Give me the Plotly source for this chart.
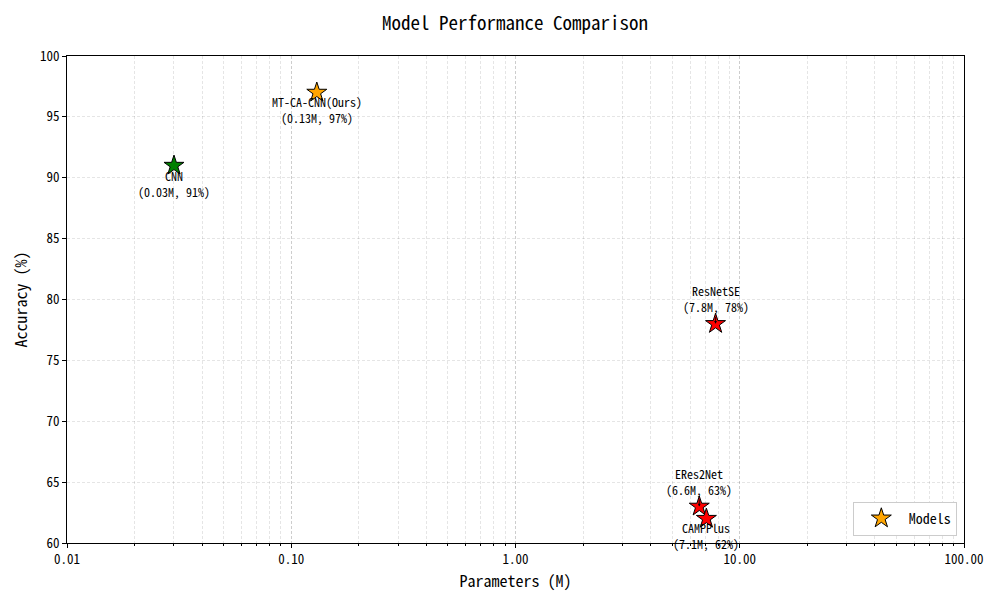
import math
import plotly.graph_objects as go

# model data
models = ["MT-CA-CNN(Ours)", "CNN", "ResNetSE", "ERes2Net", "CAMPPlus"]
params_m = [0.13, 0.03, 7.8, 6.6, 7.1]
accuracy = [97, 91, 78, 63, 62]
colors = ["orange", "green", "red", "red", "red"]

# vertical label offset (px, plotly: negative = above)
label_dy = [17, 18, -25, -25, 17]

FONT = "Noto Sans Mono CJK SC, Liberation Mono, monospace"

fig = go.Figure()
fig.add_trace(go.Scatter(
    x=params_m, y=accuracy, mode="markers", name="Models",
    marker=dict(symbol="star", size=15, color=colors,
                line=dict(color="black", width=1)),
))

# annotations on a log axis take log10 positions
for name, p, a, dy in zip(models, params_m, accuracy, label_dy):
    fig.add_annotation(
        x=math.log10(p), y=a, xref="x", yref="y",
        text=f"{name}<br>({p}M, {a}%)", showarrow=dy < 0,
        ax=0, ay=dy, arrowhead=2, arrowsize=0.7, arrowwidth=0.8,
        arrowcolor="black", standoff=0,
        yshift=0 if dy < 0 else -dy,
        font=dict(family=FONT, size=12, color="black"),
    )

grid = "rgba(0,0,0,0.1)"
fig.update_xaxes(
    type="log", range=[-2, 2],
    tickvals=[0.01, 0.1, 1, 10, 100],
    ticktext=["0.01", "0.10", "1.00", "10.00", "100.00"],
    ticks="outside", ticklen=4, tickwidth=1, tickcolor="black",
    showline=True, linecolor="black", linewidth=1, mirror=True,
    showgrid=True, gridcolor=grid, griddash="3px,2px", gridwidth=0.7,
    minor=dict(dtick="D1", ticks="outside", ticklen=2, tickcolor="black",
               showgrid=True, gridcolor=grid, griddash="3px,2px", gridwidth=0.7),
    title=dict(text="Parameters (M)", font=dict(family=FONT, size=16), standoff=3),
    tickfont=dict(family=FONT, size=13, color="black"),
    zeroline=False,
)
fig.update_yaxes(
    range=[60, 100], dtick=5,
    ticks="outside", ticklen=4, tickwidth=1, tickcolor="black",
    showline=True, linecolor="black", linewidth=1, mirror=True,
    showgrid=True, gridcolor=grid, griddash="3px,2px", gridwidth=0.7,
    title=dict(text="Accuracy (%)", font=dict(family=FONT, size=16), standoff=8),
    tickfont=dict(family=FONT, size=13, color="black"),
    zeroline=False,
)

# page body adds ~8px offset, so margins are shifted to compensate
fig.update_layout(
    width=1000, height=600,
    margin=dict(l=59, r=44, t=48, b=65),
    paper_bgcolor="white", plot_bgcolor="white",
    title=dict(text="Model Performance Comparison", x=0.507, xanchor="center",
               y=0.974, yanchor="middle",
               font=dict(family=FONT, size=19, color="black")),
    font=dict(family=FONT, color="black"),
    showlegend=True,
    legend=dict(x=0.992, y=0.015, xanchor="right", yanchor="bottom",
                bgcolor="white", bordercolor="#cccccc", borderwidth=1,
                itemwidth=45, font=dict(family=FONT, size=14)),
)

fig.write_html("out.html")
